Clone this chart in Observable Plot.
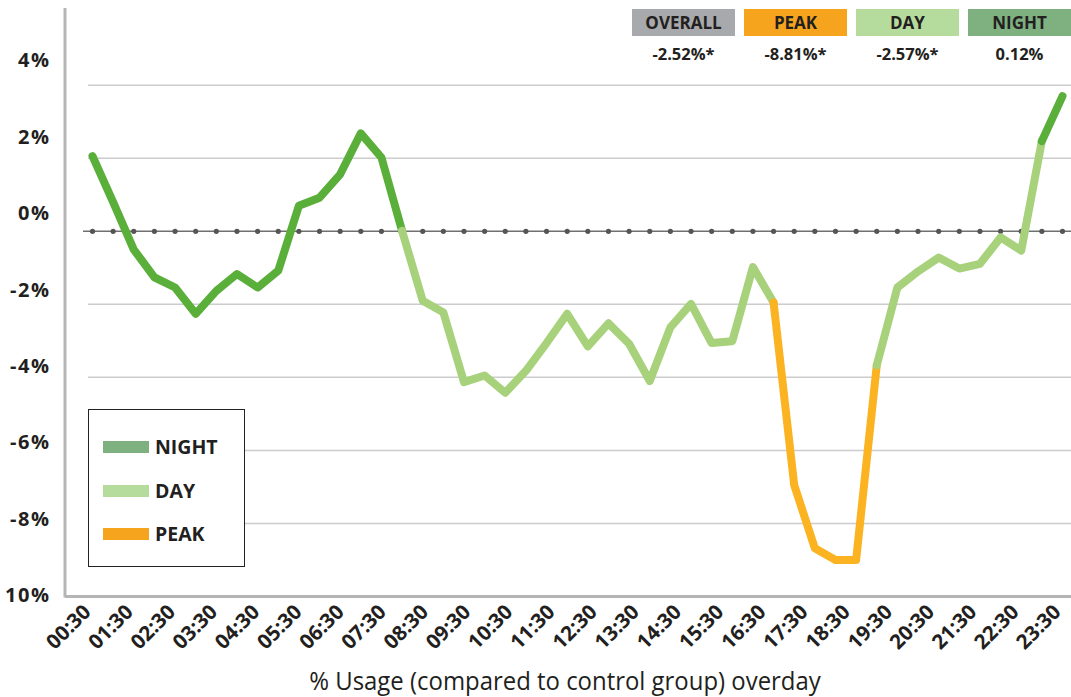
<!DOCTYPE html>
<html><head><meta charset="utf-8">
<script src="https://cdn.jsdelivr.net/npm/d3@7"></script>
<script src="https://cdn.jsdelivr.net/npm/@observablehq/plot@0.6"></script>
<style>
body{margin:0;background:#fff;font-family:"Open Sans",sans-serif;}
#wrap{position:relative;width:1071px;height:697px;overflow:hidden;background:#fff}
.sum{position:absolute;top:9px;width:103px;height:27px;line-height:27px;text-align:center;font-weight:700;font-size:17px;color:#231f20}
.sumv{position:absolute;top:42px;width:103px;text-align:center;font-weight:700;font-size:16.5px;color:#231f20}
#legend{position:absolute;left:88px;top:409px;width:157px;height:158px;border:1.5px solid #222;background:#fff;box-sizing:border-box}
.lg{position:absolute;left:14px;height:12px;width:46px}
.lt{position:absolute;left:66px;font-weight:700;font-size:19.5px;color:#231f20;line-height:24px}
#caption{position:absolute;left:265px;width:600px;top:662px;text-align:center;white-space:nowrap;font-family:"Open Sans",sans-serif;font-size:26px;color:#231f20;transform:scaleX(0.92);transform-origin:center}
</style></head><body><div id="wrap"></div>
<script>
// half-hourly readings (00:30 .. 24:00), % usage vs control group
const times = ["00:30","01:00","01:30","02:00","02:30","03:00","03:30","04:00","04:30","05:00","05:30","06:00",
  "06:30","07:00","07:30","08:00","08:30","09:00","09:30","10:00","10:30","11:00","11:30","12:00",
  "12:30","13:00","13:30","14:00","14:30","15:00","15:30","16:00","16:30","17:00","17:30","18:00",
  "18:30","19:00","19:30","20:00","20:30","21:00","21:30","22:00","22:30","23:00","23:30","24:00"];
const usage = [2.06,0.80,-0.50,-1.26,-1.54,-2.26,-1.63,-1.17,-1.54,-1.08,0.70,0.92,
  1.56,2.68,2.02,0.01,-1.90,-2.22,-4.13,-3.95,-4.42,-3.82,-3.06,-2.26,
  -3.15,-2.52,-3.08,-4.10,-2.63,-1.99,-3.06,-3.01,-0.98,-1.95,-6.95,-8.68,
  -9.00,-9.00,-3.67,-1.54,-1.10,-0.72,-1.02,-0.89,-0.17,-0.53,2.47,3.70];
const periodNames = ["NIGHT","DAY","PEAK","DAY","NIGHT"];
const periodStart = [0,15,33,38,46];
const periodEnd = [15,33,38,46,47];
const lineColors = {NIGHT:"#5aae3a", DAY:"#a7d17b", PEAK:"#fbb321"};
const yTicks = [4,2,0,-2,-4,-6,-8,-10];
const yTickText = ["4%","2%","0%","-2%","-4%","-6%","-8%","10%"];
const gridValues = [4,2,-2,-4,-6,-8];
const xTickText = ["00:30","01:30","02:30","03:30","04:30","05:30","06:30","07:30","08:30","09:30","10:30","11:30",
  "12:30","13:30","14:30","15:30","16:30","17:30","18:30","19:30","20:30","21:30","22:30","23:30"];
const summaryNames = ["OVERALL","PEAK","DAY","NIGHT"];
const summaryValues = ["-2.52%*","-8.81%*","-2.57%*","0.12%"];
const summaryColors = ["#a7a9ac","#f6a31e","#b6dc9d","#7eb080"];
const legendNames = ["NIGHT","DAY","PEAK"];
const legendColors = ["#7eb080","#b6dc9d","#f6a31e"];

// build line segments
const rows = [];
periodNames.forEach((p, k) => {
  for (let i = periodStart[k]; i <= periodEnd[k]; i++) rows.push({i, time: times[i], v: usage[i], seg: k, period: p});
});
const pts = usage.map((v, i) => ({i, time: times[i], v}));
const n = times.length - 1;
const xTickPos = xTickText.map((t, k) => k * n / (xTickText.length - 1));
const xLabel = new Map(xTickPos.map((p, k) => [p, xTickText[k]]));

const chart = Plot.plot({
  width: 1071, height: 697,
  marginLeft: 65, marginRight: 0, marginTop: 8, marginBottom: 101,
  style: {fontFamily: "'Open Sans', sans-serif", color: "#231f20", background: "transparent"},
  x: {domain: [0, n], insetLeft: 27, insetRight: 9, label: null},
  y: {domain: [-10, 6.1], axis: null, label: null},
  marks: [
    Plot.ruleY(gridValues, {stroke: "#cccccc", strokeWidth: 1.5, insetLeft: 23}),
    Plot.ruleY([0], {stroke: "#707070", strokeWidth: 1.5, insetLeft: 18}),
    Plot.dot(pts, {x: "i", y: () => 0, r: 2.6, fill: "#555", stroke: "none"}),
    Plot.ruleY([-10], {stroke: "#b5b5b5", strokeWidth: 3}),
    (index, scales, values, dims) => {
      const g = d3.create("svg:g");
      g.append("line").attr("x1", dims.marginLeft).attr("x2", dims.marginLeft)
        .attr("y1", dims.marginTop).attr("y2", dims.height - dims.marginBottom + 1.5)
        .attr("stroke", "#b5b5b5").attr("stroke-width", 3);
      return g.node();
    },
    Plot.line(rows, {x: "i", y: "v", z: "seg", stroke: d => lineColors[d.period],
      strokeWidth: 8, strokeLinecap: "round", strokeLinejoin: "round"}),
    Plot.text(yTicks, {y: d => 0.48 + 1.046 * d, text: (d, k) => yTickText[k], frameAnchor: "left",
      textAnchor: "end", dx: -15, fontSize: 20, fontWeight: "bold", fill: "#231f20"}),
    Plot.axisX(xTickPos, {tickFormat: d => xLabel.get(d), tickRotate: -45, tickSize: 0, tickPadding: 12,
      dx: -5, fontSize: 20.5, fontWeight: "bold", fill: "#231f20", label: null})
  ]
});
const wrap = document.getElementById("wrap");
wrap.appendChild(chart);
chart.querySelectorAll("text").forEach(t => { if (/%$/.test(t.textContent)) t.setAttribute("letter-spacing", "1.5"); });

summaryNames.forEach((s, k) => {
  const left = 632 + k * 112;
  const b = document.createElement("div");
  b.className = "sum"; b.style.left = left + "px"; b.style.background = summaryColors[k]; b.textContent = s;
  wrap.appendChild(b);
  const v = document.createElement("div");
  v.className = "sumv"; v.style.left = left + "px"; v.textContent = summaryValues[k];
  wrap.appendChild(v);
});
const lg = document.createElement("div"); lg.id = "legend"; wrap.appendChild(lg);
legendNames.forEach((s, k) => {
  const sw = document.createElement("div"); sw.className = "lg";
  sw.style.top = (31 + k * 43.5) + "px"; sw.style.background = legendColors[k]; lg.appendChild(sw);
  const t = document.createElement("div"); t.className = "lt";
  t.style.top = (25 + k * 43.5) + "px"; t.textContent = s; lg.appendChild(t);
});
const cap = document.createElement("div"); cap.id = "caption";
cap.textContent = "% Usage (compared to control group) overday"; wrap.appendChild(cap);
</script></body></html>
